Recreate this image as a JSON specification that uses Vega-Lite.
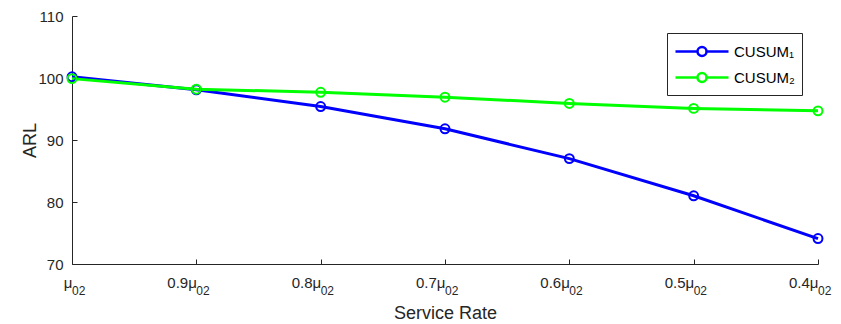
{
  "$schema": "https://vega.github.io/schema/vega-lite/v6.json",
  "width": 746,
  "height": 248,
  "autosize": {"type": "none"},
  "padding": {"left": 72, "top": 16, "right": 23, "bottom": 60},
  "background": "white",
  "config": {
    "view": {"stroke": null},
    "font": "Liberation Sans",
    "axis": {
      "domainColor": "#262626",
      "domainWidth": 1,
      "tickColor": "#262626",
      "tickSize": -5,
      "tickWidth": 1,
      "grid": false,
      "labelColor": "#262626",
      "labelFont": "Liberation Sans",
      "labelFontSize": 15,
      "titleColor": "#262626",
      "titleFont": "Liberation Sans",
      "titleFontSize": 18,
      "titleFontWeight": "normal"
    }
  },
  "data": {
    "values": [
      {"rate": "μ", "series": "CUSUM₁", "arl": 100.2},
      {"rate": "0.9μ", "series": "CUSUM₁", "arl": 98.1},
      {"rate": "0.8μ", "series": "CUSUM₁", "arl": 95.4},
      {"rate": "0.7μ", "series": "CUSUM₁", "arl": 91.8},
      {"rate": "0.6μ", "series": "CUSUM₁", "arl": 87.0},
      {"rate": "0.5μ", "series": "CUSUM₁", "arl": 81.0},
      {"rate": "0.4μ", "series": "CUSUM₁", "arl": 74.1},
      {"rate": "μ", "series": "CUSUM₂", "arl": 99.9},
      {"rate": "0.9μ", "series": "CUSUM₂", "arl": 98.2},
      {"rate": "0.8μ", "series": "CUSUM₂", "arl": 97.7},
      {"rate": "0.7μ", "series": "CUSUM₂", "arl": 96.9},
      {"rate": "0.6μ", "series": "CUSUM₂", "arl": 95.9},
      {"rate": "0.5μ", "series": "CUSUM₂", "arl": 95.1},
      {"rate": "0.4μ", "series": "CUSUM₂", "arl": 94.7}
    ]
  },
  "encoding": {
    "x": {
      "field": "rate",
      "type": "ordinal",
      "sort": null,
      "scale": {"type": "point", "padding": 0},
      "axis": {
        "title": "Service Rate",
        "labelAngle": 0,
        "labelAlign": "right",
        "labelBaseline": "alphabetic",
        "labelPadding": 28,
        "titlePadding": 14
      }
    }
  },
  "layer": [
    {
      "mark": {"type": "line", "strokeWidth": 3},
      "encoding": {
        "y": {
          "field": "arl",
          "type": "quantitative",
          "scale": {"domain": [70, 110], "nice": false, "zero": false},
          "axis": {"title": "ARL", "values": [70, 80, 90, 100, 110], "labelPadding": 14, "titlePadding": -2}
        },
        "stroke": {
          "field": "series",
          "type": "nominal",
          "scale": {"domain": ["CUSUM₁", "CUSUM₂"], "range": ["#0000ff", "#00ff00"]},
          "legend": {
            "title": null,
            "orient": "none",
            "legendX": 595,
            "legendY": 17,
            "symbolType": "M-1,0L1.2,0M2.1,0L4.3,0M1.2,0A0.45,0.45,0,1,1,2.1,0A0.45,0.45,0,1,1,1.2,0",
            "symbolSize": 400,
            "symbolStrokeWidth": 2.5,
            "symbolFillColor": "transparent",
            "labelOffset": 37,
            "labelFontSize": 15,
            "labelFont": "Liberation Sans",
            "labelColor": "#000000",
            "rowPadding": 4,
            "padding": 7,
            "strokeColor": "#262626",
            "fillColor": "white",
            "encode": {"symbols": {"update": {"fill": {"value": "transparent"}}}}
          }
        }
      }
    },
    {
      "mark": {"type": "point", "shape": "circle", "filled": false, "size": 80, "strokeWidth": 2, "opacity": 1},
      "encoding": {
        "y": {"field": "arl", "type": "quantitative"},
        "stroke": {"field": "series", "type": "nominal"}
      }
    },
    {
      "transform": [{"filter": "datum.series === 'CUSUM₁'"}],
      "mark": {"type": "text", "align": "left", "baseline": "alphabetic", "dy": 31, "fontSize": 12, "font": "Liberation Sans", "color": "#262626"},
      "encoding": {
        "y": {"datum": 70, "type": "quantitative"},
        "text": {"value": "02"}
      }
    }
  ]
}
